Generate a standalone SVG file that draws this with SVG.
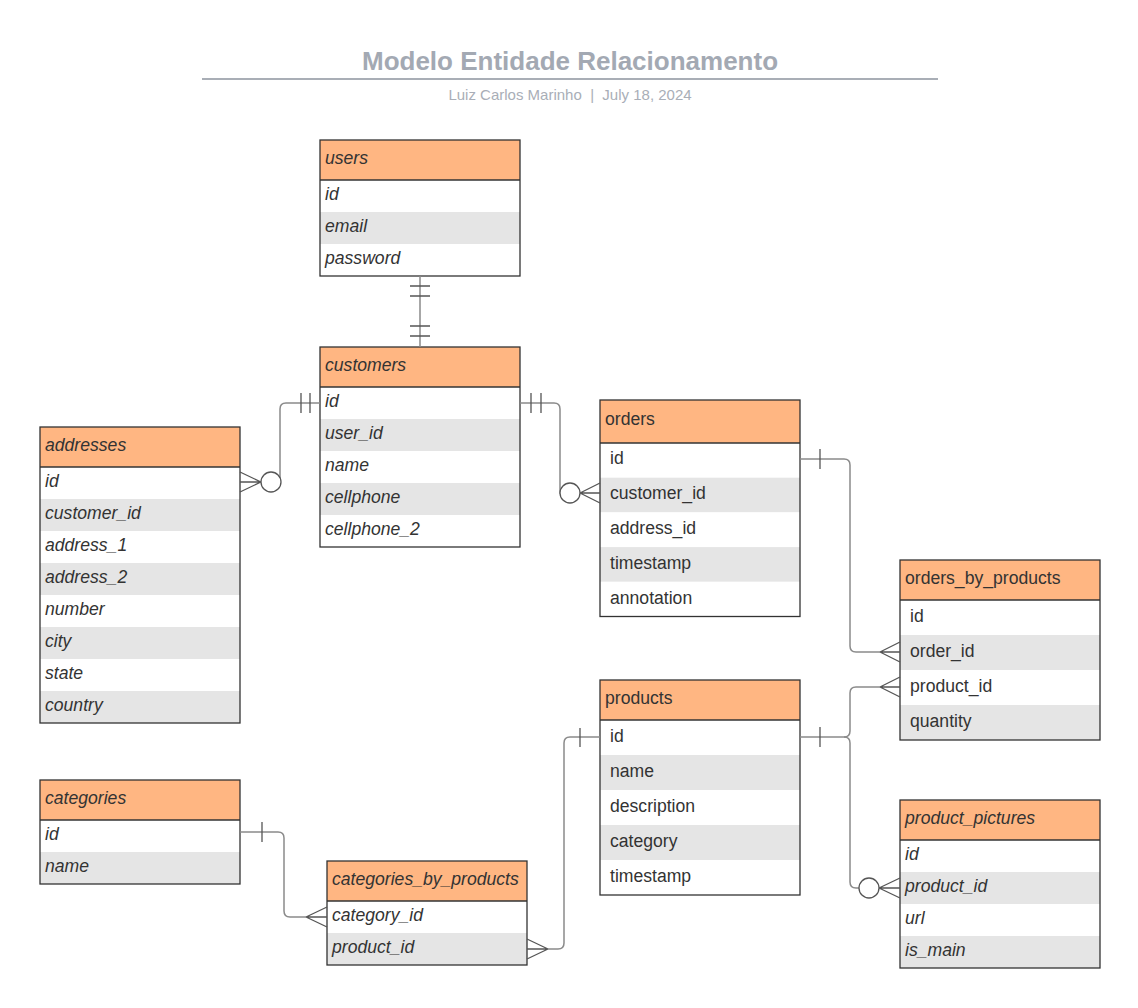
<svg xmlns="http://www.w3.org/2000/svg" width="1138" height="1008" viewBox="0 0 1138 1008">
<style>
text{font-family:"Liberation Sans",Arial,sans-serif;fill:#333;font-size:17.6px}
.it{font-style:italic}
.hd{fill:#ffb682}
.gr{fill:#e5e5e5}
.wh{fill:#fff}
.ol{fill:none;stroke:#333;stroke-width:1.3}
.conn path.l{fill:none;stroke:#8a8a8a;stroke-width:1.5}
.conn path.m{fill:none;stroke:#555;stroke-width:1.3}
.conn circle{fill:#fff;stroke:#555;stroke-width:1.3}
.title{font-size:26px;font-weight:bold;fill:#a3a9b3}
.sub{font-size:15px;fill:#a9aeb7}
</style>
<rect width="1138" height="1008" fill="#fff"/>
<g id="header">
<text class="title" x="570" y="70" text-anchor="middle">Modelo Entidade Relacionamento</text>
<line x1="202" y1="79" x2="938" y2="79" stroke="#a9aeb6" stroke-width="2"/>
<text class="sub" x="570" y="100" text-anchor="middle">Luiz Carlos Marinho &#160;|&#160; July 18, 2024</text>
</g>

<g id="users">
<rect class="hd" x="320" y="140" width="200" height="40"/>
<rect class="wh" x="320" y="180" width="200" height="32"/>
<rect class="gr" x="320" y="212" width="200" height="32"/>
<rect class="wh" x="320" y="244" width="200" height="32"/>
<line x1="320" y1="180" x2="520" y2="180" stroke="#333" stroke-width="1.3"/>
<rect class="ol" x="320" y="140" width="200" height="136"/>
<text class="it" x="325" y="164">users</text>
<text class="it" x="325" y="200">id</text>
<text class="it" x="325" y="232">email</text>
<text class="it" x="325" y="264">password</text>
</g>

<g id="customers">
<rect class="hd" x="320" y="347" width="200" height="40"/>
<rect class="wh" x="320" y="387" width="200" height="32"/>
<rect class="gr" x="320" y="419" width="200" height="32"/>
<rect class="wh" x="320" y="451" width="200" height="32"/>
<rect class="gr" x="320" y="483" width="200" height="32"/>
<rect class="wh" x="320" y="515" width="200" height="32"/>
<line x1="320" y1="387" x2="520" y2="387" stroke="#333" stroke-width="1.3"/>
<rect class="ol" x="320" y="347" width="200" height="200"/>
<text class="it" x="325" y="371">customers</text>
<text class="it" x="325" y="407">id</text>
<text class="it" x="325" y="439">user_id</text>
<text class="it" x="325" y="471">name</text>
<text class="it" x="325" y="503">cellphone</text>
<text class="it" x="325" y="535">cellphone_2</text>
</g>

<g id="addresses">
<rect class="hd" x="40" y="427" width="200" height="40"/>
<rect class="wh" x="40" y="467" width="200" height="32"/>
<rect class="gr" x="40" y="499" width="200" height="32"/>
<rect class="wh" x="40" y="531" width="200" height="32"/>
<rect class="gr" x="40" y="563" width="200" height="32"/>
<rect class="wh" x="40" y="595" width="200" height="32"/>
<rect class="gr" x="40" y="627" width="200" height="32"/>
<rect class="wh" x="40" y="659" width="200" height="32"/>
<rect class="gr" x="40" y="691" width="200" height="32"/>
<line x1="40" y1="467" x2="240" y2="467" stroke="#333" stroke-width="1.3"/>
<rect class="ol" x="40" y="427" width="200" height="296"/>
<text class="it" x="45" y="451">addresses</text>
<text class="it" x="45" y="487">id</text>
<text class="it" x="45" y="519">customer_id</text>
<text class="it" x="45" y="551">address_1</text>
<text class="it" x="45" y="583">address_2</text>
<text class="it" x="45" y="615">number</text>
<text class="it" x="45" y="647">city</text>
<text class="it" x="45" y="679">state</text>
<text class="it" x="45" y="711">country</text>
</g>

<g id="orders">
<rect class="hd" x="600" y="400" width="200" height="43"/>
<rect class="wh" x="600" y="443" width="200" height="34.7"/>
<rect class="gr" x="600" y="477.7" width="200" height="34.7"/>
<rect class="wh" x="600" y="512.4" width="200" height="34.7"/>
<rect class="gr" x="600" y="547.1" width="200" height="34.7"/>
<rect class="wh" x="600" y="581.8" width="200" height="34.7"/>
<line x1="600" y1="443" x2="800" y2="443" stroke="#333" stroke-width="1.3"/>
<rect class="ol" x="600" y="400" width="200" height="216.5"/>
<text x="605" y="425">orders</text>
<text x="610" y="464">id</text>
<text x="610" y="499">customer_id</text>
<text x="610" y="534">address_id</text>
<text x="610" y="569">timestamp</text>
<text x="610" y="604">annotation</text>
</g>

<g id="orders_by_products">
<rect class="hd" x="900" y="560" width="200" height="40"/>
<rect class="wh" x="900" y="600" width="200" height="35"/>
<rect class="gr" x="900" y="635" width="200" height="35"/>
<rect class="wh" x="900" y="670" width="200" height="35"/>
<rect class="gr" x="900" y="705" width="200" height="35"/>
<line x1="900" y1="600" x2="1100" y2="600" stroke="#333" stroke-width="1.3"/>
<rect class="ol" x="900" y="560" width="200" height="180"/>
<text x="905" y="584">orders_by_products</text>
<text x="910" y="622">id</text>
<text x="910" y="657">order_id</text>
<text x="910" y="692">product_id</text>
<text x="910" y="727">quantity</text>
</g>

<g id="products">
<rect class="hd" x="600" y="680" width="200" height="40"/>
<rect class="wh" x="600" y="720" width="200" height="35"/>
<rect class="gr" x="600" y="755" width="200" height="35"/>
<rect class="wh" x="600" y="790" width="200" height="35"/>
<rect class="gr" x="600" y="825" width="200" height="35"/>
<rect class="wh" x="600" y="860" width="200" height="35"/>
<line x1="600" y1="720" x2="800" y2="720" stroke="#333" stroke-width="1.3"/>
<rect class="ol" x="600" y="680" width="200" height="215"/>
<text x="605" y="704">products</text>
<text x="610" y="742">id</text>
<text x="610" y="777">name</text>
<text x="610" y="812">description</text>
<text x="610" y="847">category</text>
<text x="610" y="882">timestamp</text>
</g>

<g id="product_pictures">
<rect class="hd" x="900" y="800" width="200" height="40"/>
<rect class="wh" x="900" y="840" width="200" height="32"/>
<rect class="gr" x="900" y="872" width="200" height="32"/>
<rect class="wh" x="900" y="904" width="200" height="32"/>
<rect class="gr" x="900" y="936" width="200" height="32"/>
<line x1="900" y1="840" x2="1100" y2="840" stroke="#333" stroke-width="1.3"/>
<rect class="ol" x="900" y="800" width="200" height="168"/>
<text class="it" x="905" y="824">product_pictures</text>
<text class="it" x="905" y="860">id</text>
<text class="it" x="905" y="892">product_id</text>
<text class="it" x="905" y="924">url</text>
<text class="it" x="905" y="956">is_main</text>
</g>

<g id="categories">
<rect class="hd" x="40" y="780" width="200" height="40"/>
<rect class="wh" x="40" y="820" width="200" height="32"/>
<rect class="gr" x="40" y="852" width="200" height="32"/>
<line x1="40" y1="820" x2="240" y2="820" stroke="#333" stroke-width="1.3"/>
<rect class="ol" x="40" y="780" width="200" height="104"/>
<text class="it" x="45" y="804">categories</text>
<text class="it" x="45" y="840">id</text>
<text class="it" x="45" y="872">name</text>
</g>

<g id="categories_by_products">
<rect class="hd" x="327" y="861" width="200" height="40"/>
<rect class="wh" x="327" y="901" width="200" height="32"/>
<rect class="gr" x="327" y="933" width="200" height="32"/>
<line x1="327" y1="901" x2="527" y2="901" stroke="#333" stroke-width="1.3"/>
<rect class="ol" x="327" y="861" width="200" height="104"/>
<text class="it" x="332" y="885">categories_by_products</text>
<text class="it" x="332" y="921">category_id</text>
<text class="it" x="332" y="953">product_id</text>
</g>

<g id="connectors" class="conn">
<path class="l" d="M420,276 V347"/>
<path class="m" d="M410,286 H430 M410,296 H430 M410,326 H430 M410,336 H430"/>
<path class="l" d="M320,403 H286 Q280,403 280,409 V482 H261"/>
<path class="m" d="M301,393 V413 M310,393 V413"/>
<path class="m" d="M261,482 L240,472 M261,482 L240,482 M261,482 L240,492"/>
<circle cx="271" cy="482" r="10"/>
<path class="l" d="M520,403 H554 Q560,403 560,409 V493 H580"/>
<path class="m" d="M531,393 V413 M541,393 V413"/>
<path class="m" d="M580,493 L600,483 M580,493 L600,493 M580,493 L600,503"/>
<circle cx="570" cy="493" r="10"/>
<path class="l" d="M800,459 H844 Q850,459 850,465 V646 Q850,652 856,652 H880"/>
<path class="m" d="M820,449 V469"/>
<path class="m" d="M880,652 L900,642 M880,652 L900,652 M880,652 L900,662"/>
<path class="l" d="M800,737 H844 Q850,737 850,731 V693 Q850,687 856,687 H880"/>
<path class="m" d="M820,727 V747"/>
<path class="m" d="M880,687 L900,677 M880,687 L900,687 M880,687 L900,697"/>
<path class="l" d="M844,737 Q850,737 850,743 V882 Q850,888 856,888 H859"/>
<path class="m" d="M879,888 L900,878 M879,888 L900,888 M879,888 L900,898"/>
<circle cx="869" cy="888" r="10"/>
<path class="l" d="M600,737 H570 Q564,737 564,743 V943 Q564,949 558,949 H548"/>
<path class="m" d="M580,728 V747"/>
<path class="m" d="M548,949 L527,939 M548,949 L527,949 M548,949 L527,959"/>
<path class="l" d="M240,832 H278 Q284,832 284,838 V911 Q284,917 290,917 H306"/>
<path class="m" d="M262,822 V842"/>
<path class="m" d="M306,917 L327,907 M306,917 L327,917 M306,917 L327,927"/>
</g>
</svg>
